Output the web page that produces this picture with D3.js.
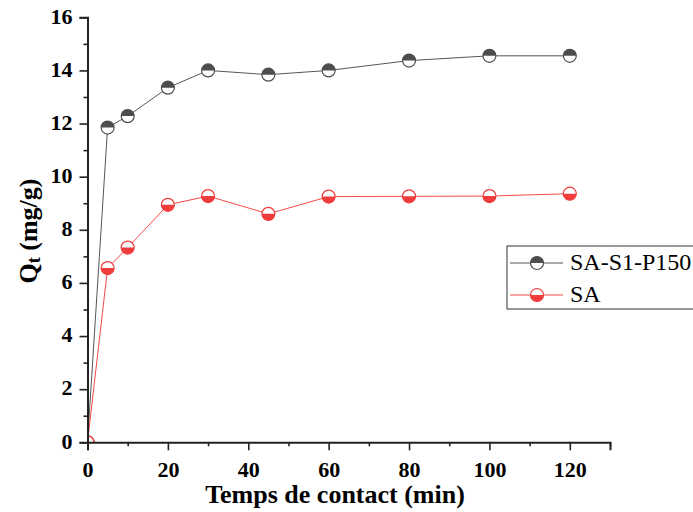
<!DOCTYPE html>
<html><head><meta charset="utf-8">
<script src="https://cdn.jsdelivr.net/npm/d3@7"></script>
<style>body{margin:0;background:#fff}svg{display:block}svg text{font-family:"Liberation Serif","Times New Roman",serif}</style>
</head><body>
<svg id="c" width="693" height="512"></svg>
<script>
const times = [0, 5, 10, 20, 30, 45, 60, 80, 100, 120];
const qP150 = [0, 11.85, 12.28, 13.35, 14.0, 13.84, 14.0, 14.37, 14.55, 14.55];
const qSA = [0, 6.56, 7.33, 8.94, 9.27, 8.6, 9.25, 9.26, 9.27, 9.36];
const xTicks = [0, 20, 40, 60, 80, 100, 120];
const yTicks = [0, 2, 4, 6, 8, 10, 12, 14, 16];
const seriesNames = ["SA-S1-P150", "SA"];

const svg = d3.select("#c");
const L = 87.5, R = 610, T = 17.3, B = 442.3;
const x = d3.scaleLinear().domain([0, 130]).range([L, R]);
const y = d3.scaleLinear().domain([0, 16]).range([B, T]);
const fontFam = "Liberation Serif";

const series = [
  {name: seriesNames[0], vals: qP150, color: "#4d4d4d", line: "#555", fillTop: true},
  {name: seriesNames[1], vals: qSA, color: "#f03c3c", line: "#f24a4a", fillTop: false}
];

const defs = svg.append("defs");
defs.append("clipPath").attr("id", "plotclip").append("rect")
  .attr("x", L).attr("y", T - 10).attr("width", R - L + 10).attr("height", B - T + 10);

const r = 6.5;
function marker(g, cx, cy, s) {
  const m = g.append("g").attr("transform", `translate(${cx},${cy})`);
  m.append("circle").attr("r", r).attr("fill", "#fff");
  const arc = s.fillTop
    ? `M${-r},0 A${r},${r} 0 0 1 ${r},0 Z`
    : `M${-r},0 A${r},${r} 0 0 0 ${r},0 Z`;
  m.append("path").attr("d", arc).attr("fill", s.color);
  m.append("circle").attr("r", r).attr("fill", "none").attr("stroke", s.color).attr("stroke-width", 1.2);
}

const plot = svg.append("g").attr("clip-path", "url(#plotclip)");
series.forEach(s => {
  const pts = times.map((t, i) => [t, s.vals[i]]);
  plot.append("path").datum(pts)
    .attr("fill", "none").attr("stroke", s.line).attr("stroke-width", 1)
    .attr("d", d3.line().x(d => x(d[0])).y(d => y(d[1])));
});
series.forEach(s => {
  times.forEach((t, i) => marker(plot, x(t), y(s.vals[i]), s));
});

// axes
const xAxis = svg.append("g").attr("transform", `translate(0,${B})`)
  .call(d3.axisBottom(x).tickValues(xTicks).tickSize(8).tickPadding(11).tickFormat(d3.format("d")));
const xMinor = svg.append("g").attr("transform", `translate(0,${B})`)
  .call(d3.axisBottom(x).tickValues([10, 30, 50, 70, 90, 110, 130]).tickSize(4).tickFormat(""));
const yAxis = svg.append("g").attr("transform", `translate(${L},0)`)
  .call(d3.axisLeft(y).tickValues(yTicks).tickSize(8).tickPadding(7).tickFormat(d3.format("d")));
const yMinor = svg.append("g").attr("transform", `translate(${L},0)`)
  .call(d3.axisLeft(y).tickValues([1, 3, 5, 7, 9, 11, 13, 15]).tickSize(4).tickFormat(""));
[xAxis, xMinor, yAxis, yMinor].forEach(a => {
  a.attr("font-family", null);
  a.select(".domain").attr("stroke", "#222").attr("stroke-width", 2);
  a.selectAll(".tick line").attr("stroke", "#222").attr("stroke-width", 1.6);
  a.selectAll(".tick text").style("font-family", fontFam).attr("font-weight", "bold")
    .attr("font-size", 22).attr("fill", "#000");
});
yAxis.selectAll(".tick text").attr("dy", "0.26em");
xMinor.select(".domain").remove();
yMinor.select(".domain").remove();

// axis titles
svg.append("text").attr("x", 335).attr("y", 503).attr("text-anchor", "middle")
  .style("font-family", fontFam).attr("font-weight", "bold").attr("font-size", 26)
  .text("Temps de contact (min)");
const yt = svg.append("text").attr("transform", "translate(37,231) rotate(-90)")
  .attr("text-anchor", "middle").style("font-family", fontFam).attr("font-weight", "bold").attr("font-size", 26);
yt.append("tspan").text("Q");
yt.append("tspan").attr("font-size", 18).attr("dy", 3).text("t");
yt.append("tspan").attr("dy", -3).text(" (mg/g)");

// legend
const lg = svg.append("g");
lg.append("rect").attr("x", 507).attr("y", 246).attr("width", 200).attr("height", 63)
  .attr("fill", "#fff").attr("stroke", "#333").attr("stroke-width", 1);
series.forEach((s, i) => {
  const yy = 263 + i * 32;
  lg.append("line").attr("x1", 510).attr("x2", 563).attr("y1", yy).attr("y2", yy)
    .attr("stroke", s.line).attr("stroke-width", 1);
  marker(lg, 537, yy, s);
  lg.append("text").attr("x", 570).attr("y", yy + 7).style("font-family", fontFam)
    .attr("font-size", 24).attr("fill", "#000").text(s.name);
});
</script>
</body></html>
